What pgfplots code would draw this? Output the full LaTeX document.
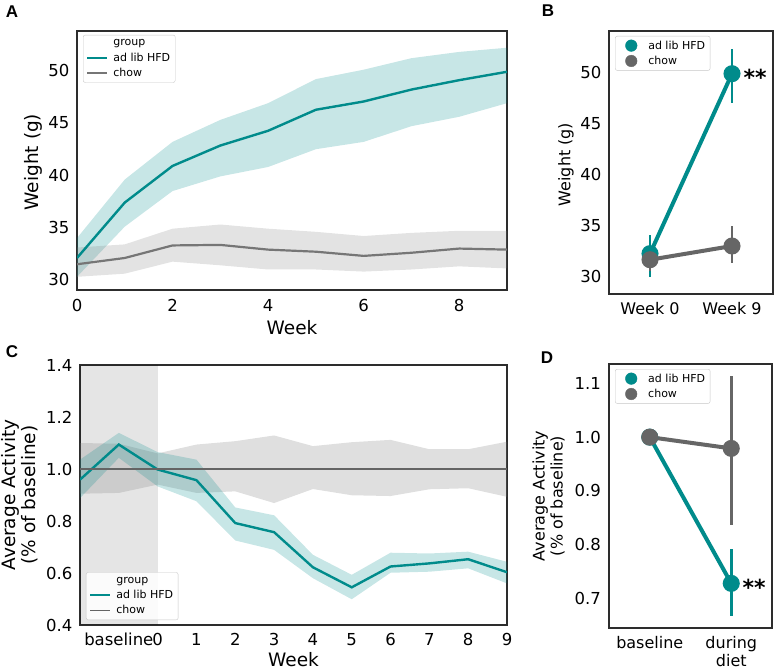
\documentclass[border=0pt]{standalone}
\usepackage{pgfplots}
\pgfplotsset{compat=1.18}
\usepackage{fontspec}
\setmainfont{DejaVu Sans}
\newfontfamily\panelfont{Liberation Sans}
\definecolor{hfd}{RGB}{0,139,139}
\definecolor{chowc}{RGB}{118,118,118}
\definecolor{chowm}{RGB}{102,102,102}
\definecolor{axc}{RGB}{45,45,45}
\pgfplotsset{
  base/.style={
    scale only axis,
    anchor=south west,
    axis line style={axc, line width=1.2pt},
    major tick length=0pt,
    tick label style={font=\fontsize{16.5}{19}\selectfont},
    /pgf/number format/assume math mode=true,
    label style={font=\fontsize{18.5}{20}\selectfont},
    legend cell align=left,
  },
  legbox/.style={legend style={font=\fontsize{11}{12.5}\selectfont, draw=black!22, rounded corners=2pt,
      fill=white, fill opacity=0.85, text opacity=1, inner xsep=3pt, inner ysep=2.5pt,
      row sep=1.5pt}},
  linelegend/.style={legend image code/.code={\draw[##1] (1pt,0pt) -- (21pt,0pt); \path[draw=none,fill=none] (0pt,0pt) rectangle (25pt,0.1pt);}},
  dotlegend/.style={legend image code/.code={\fill[##1, fill opacity=1] (13pt,0pt) circle (5.8pt); \path[draw=none,fill=none] (0pt,0pt) rectangle (28pt,0.1pt);}},
}
\begin{document}
\begin{tikzpicture}
\useasboundingbox (0,0) rectangle (775pt,671pt);
% ---------------- A ----------------
\begin{axis}[base, at={(77pt,381pt)}, width=430pt, height=259pt,
  xmin=0, xmax=9, ymin=29.04, ymax=53.8,
  xtick={0,2,4,6,8}, ytick={30,35,40,45,50},
  xticklabel shift=6pt, yticklabel shift=4pt,
  xlabel={Week}, ylabel={Weight (g)},
  xlabel style={at={(axis description cs:0.5,-0.147)}, anchor=center},
  ylabel style={at={(axis description cs:-0.101,0.494)}, anchor=center},
  legbox, linelegend,
  legend style={at={(0.014,0.985)}, anchor=north west},
]
\addplot[draw=none, fill=hfd, fill opacity=0.22, forget plot] coordinates {
 (0,34.0) (1,39.6) (2,43.2) (3,45.3) (4,46.9) (5,49.2) (6,50.1) (7,51.2) (8,51.8) (9,52.2)
 (9,46.9) (8,45.6) (7,44.7) (6,43.2) (5,42.5) (4,40.8) (3,39.9) (2,38.5) (1,35.1) (0,30.3)};
\addplot[draw=none, fill=gray, fill opacity=0.22, forget plot] coordinates {
 (0,33.1) (1,33.4) (2,34.9) (3,35.3) (4,34.9) (5,34.6) (6,34.2) (7,34.5) (8,34.7) (9,34.7)
 (9,31.1) (8,31.3) (7,31.0) (6,30.8) (5,31.0) (4,31.0) (3,31.4) (2,31.75) (1,30.6) (0,30.3)};
\addplot[hfd, line width=2.4pt, forget plot] coordinates {
 (0,32.1) (1,37.4) (2,40.9) (3,42.85) (4,44.26) (5,46.27) (6,47.06) (7,48.2) (8,49.1) (9,49.9)};
\addplot[chowc, line width=2.2pt, forget plot] coordinates {
 (0,31.5) (1,32.1) (2,33.3) (3,33.35) (4,32.9) (5,32.7) (6,32.3) (7,32.6) (8,33.0) (9,32.9)};
\addlegendimage{empty legend}\addlegendentry{group}
\addlegendimage{hfd, line width=2.2pt}\addlegendentry{ad lib HFD}
\addlegendimage{chowc, line width=2pt}\addlegendentry{chow}
\end{axis}
% ---------------- B ----------------
\begin{axis}[base, at={(609pt,377pt)}, width=164pt, height=263pt,
  xmin=-0.5, xmax=1.5, ymin=28.23, ymax=54.1,
  xtick={0,1}, xticklabels={Week 0, Week 9}, ytick={30,35,40,45,50},
  xticklabel style={font=\fontsize{16}{18}\selectfont},
  xticklabel shift=5pt, yticklabel shift=4pt,
  ylabel={Weight (g)},
  ylabel style={font=\fontsize{16}{18}\selectfont, at={(axis description cs:-0.262,0.492)}, anchor=center},
  legbox, dotlegend,
  legend style={at={(0.037,0.981)}, anchor=north west},
]
\addplot[hfd, line width=4pt, mark=*, mark size=6.5pt, mark options={draw=none, fill=hfd}, forget plot,
  error bars/.cd, y dir=both, y explicit, error mark=none,
  error bar style={line width=2.7pt, hfd}] coordinates {
  (0,32.2) += (0,1.8) -= (0,2.3)
  (1,49.9) += (0,2.4) -= (0,2.9)};
\addplot[chowm, line width=4pt, mark=*, mark size=6.5pt, mark options={draw=none, fill=chowm}, forget plot,
  error bars/.cd, y dir=both, y explicit, error mark=none,
  error bar style={line width=2.7pt, chowm}] coordinates {
  (0,31.6) += (0,1.2) -= (0,1.1)
  (1,32.95) += (0,1.95) -= (0,1.7)};
\node[anchor=base west, inner sep=0pt, font=\fontsize{22}{24}\selectfont\bfseries, yshift=-12pt] at (axis cs:1.14,49.9) {**};
\addlegendimage{hfd}\addlegendentry{ad lib HFD}
\addlegendimage{chowm}\addlegendentry{chow}
\end{axis}
% ---------------- C ----------------
\begin{axis}[base, at={(80pt,46pt)}, width=427pt, height=260pt,
  xmin=-2, xmax=9, ymin=0.4, ymax=1.4,
  xtick={-1,0,1,2,3,4,5,6,7,8,9}, xticklabels={baseline,0,1,2,3,4,5,6,7,8,9},
  ytick={0.4,0.6,0.8,1.0,1.2,1.4},
  yticklabel style={/pgf/number format/.cd, fixed, fixed zerofill, precision=1},
  xticklabel shift=4.5pt, yticklabel shift=4pt,
  xlabel={Week}, ylabel={Average Activity\\(\% of baseline)},
  xlabel style={at={(axis description cs:0.5,-0.135)}, anchor=center},
  ylabel style={align=center, at={(axis description cs:-0.1417,0.5)}, anchor=center},
  legbox, linelegend,
  legend style={at={(0.014,0.019)}, anchor=south west},
]
\addplot[draw=none, fill=black, fill opacity=0.1, forget plot] coordinates {
 (-2,0.4) (0,0.4) (0,1.4) (-2,1.4)};
\addplot[draw=none, fill=gray, fill opacity=0.25, forget plot] coordinates {
 (-2,1.10) (-1,1.097) (0,1.06) (1,1.094) (2,1.107) (3,1.129) (4,1.088) (5,1.103) (6,1.112) (7,1.076) (8,1.076) (9,1.105)
 (9,0.893) (8,0.926) (7,0.922) (6,0.896) (5,0.899) (4,0.923) (3,0.869) (2,0.914) (1,0.908) (0,0.94) (-1,0.908) (-2,0.905)};
\addplot[draw=none, fill=hfd, fill opacity=0.22, forget plot] coordinates {
 (-2,1.036) (-1,1.139) (0,1.065) (1,1.036) (2,0.852) (3,0.822) (4,0.670) (5,0.593) (6,0.678) (7,0.675) (8,0.682) (9,0.643)
 (9,0.560) (8,0.618) (7,0.605) (6,0.601) (5,0.499) (4,0.580) (3,0.689) (2,0.725) (1,0.876) (0,0.933) (-1,1.043) (-2,0.888)};
\addplot[hfd, line width=2.4pt, forget plot] coordinates {
 (-2,0.959) (-1,1.094) (0,0.998) (1,0.957) (2,0.792) (3,0.757) (4,0.622) (5,0.545) (6,0.625) (7,0.637) (8,0.653) (9,0.603)};
\addplot[chowc!85!black, line width=2.2pt, forget plot] coordinates {
 (-2,1.0) (-1,1.0) (0,1.0) (1,1.0) (2,1.0) (3,1.0) (4,1.0) (5,1.0) (6,1.0) (7,1.0) (8,1.0) (9,1.0)};
\addlegendimage{empty legend}\addlegendentry{group}
\addlegendimage{hfd, line width=2.2pt}\addlegendentry{ad lib HFD}
\addlegendimage{chowc!85!black, line width=1.6pt}\addlegendentry{chow}
\end{axis}
% ---------------- D ----------------
\begin{axis}[base, at={(609pt,43pt)}, width=163pt, height=264pt,
  xmin=-0.5, xmax=1.5, ymin=0.645, ymax=1.136,
  xtick={0,1}, xticklabels={baseline,{during\\diet}},
  xticklabel style={align=center, font=\fontsize{16}{18}\selectfont},
  ytick={0.7,0.8,0.9,1.0,1.1},
  yticklabel style={/pgf/number format/.cd, fixed, fixed zerofill, precision=1},
  xticklabel shift=5pt, yticklabel shift=4.5pt,
  ylabel={Average Activity\\(\% of baseline)},
  ylabel style={align=center, font=\fontsize{16}{18}\selectfont, at={(axis description cs:-0.371,0.5)}, anchor=center},
  legbox, dotlegend,
  legend style={at={(0.037,0.981)}, anchor=north west},
]
\addplot[hfd, line width=4pt, mark=*, mark size=6.5pt, mark options={draw=none, fill=hfd}, forget plot,
  error bars/.cd, y dir=both, y explicit, error mark=none,
  error bar style={line width=2.8pt, hfd}] coordinates {
  (0,1.0) += (0,0) -= (0,0)
  (1,0.728) += (0,0.063) -= (0,0.061)};
\addplot[chowm, line width=4pt, mark=*, mark size=6.5pt, mark options={draw=none, fill=chowm}, forget plot,
  error bars/.cd, y dir=both, y explicit, error mark=none,
  error bar style={line width=2.8pt, chowm}] coordinates {
  (0,1.0) += (0,0) -= (0,0)
  (1,0.979) += (0,0.135) -= (0,0.142)};
\node[anchor=base west, inner sep=0pt, font=\fontsize{22}{24}\selectfont\bfseries, yshift=-12pt] at (axis cs:1.136,0.7275) {**};
\addlegendimage{hfd}\addlegendentry{ad lib HFD}
\addlegendimage{chowm}\addlegendentry{chow}
\end{axis}
% panel letters
\node[font=\fontsize{17}{20}\selectfont\panelfont\bfseries] at (12pt,659pt) {A};
\node[font=\fontsize{17}{20}\selectfont\panelfont\bfseries] at (548pt,660pt) {B};
\node[font=\fontsize{17}{20}\selectfont\panelfont\bfseries] at (12pt,319pt) {C};
\node[font=\fontsize{17}{20}\selectfont\panelfont\bfseries] at (547pt,313pt) {D};
\end{tikzpicture}
\end{document}
